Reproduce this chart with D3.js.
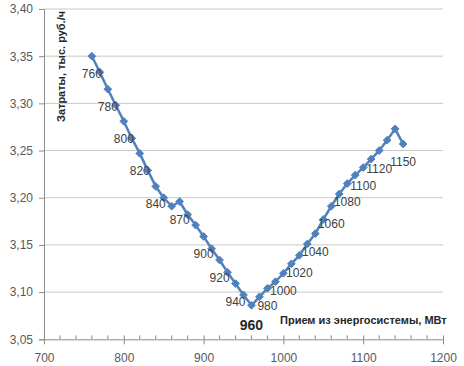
<!DOCTYPE html>
<html><head><meta charset="utf-8">
<script src="https://cdn.jsdelivr.net/npm/d3@7"></script>
<style>
html,body{margin:0;padding:0;background:#fff;}
text{font-family:"Liberation Sans",Arial,sans-serif;}
</style></head>
<body><svg id="c" width="464" height="366"></svg>
<script>
const xValues = [760,770,780,790,800,810,820,830,840,850,860,870,880,890,900,910,920,930,940,950,
                 960,970,980,990,1000,1010,1020,1030,1040,1050,1060,1070,1080,1090,1100,1110,1120,1130,1140,1150];
const costValues = [3.350,3.333,3.315,3.298,3.281,3.263,3.247,3.229,3.212,3.200,3.191,3.196,3.182,3.171,3.159,3.146,3.134,3.121,3.109,3.097,
                 3.086,3.095,3.104,3.111,3.120,3.130,3.139,3.151,3.162,3.177,3.191,3.204,3.215,3.224,3.232,3.241,3.250,3.261,3.273,3.257];
const labeledX = [760,780,800,820,840,870,900,920,940,980,1000,1020,1040,1060,1080,1100,1120,1150];
const highlightX = 960;
const xTicks = [700,800,900,1000,1100,1200];
const yTicks = [3.05,3.10,3.15,3.20,3.25,3.30,3.35,3.40];
const xTitle = "Прием из энергосистемы, МВт";
const yTitle = "Затраты, тыс. руб./ч";

const data = xValues.map((x,i)=>({x, y:costValues[i]}));
const svg = d3.select("#c");
const x = d3.scaleLinear().domain([700,1200]).range([44,443]);
const y = d3.scaleLinear().domain([3.05,3.40]).range([339.3,9]);
const fmt = d3.format(".2f");
const comma = v => fmt(v).replace(".", ",");

// gridlines
svg.append("g").selectAll("line").data(yTicks.slice(1)).join("line")
  .attr("x1",x(700)).attr("x2",x(1200))
  .attr("y1",d=>y(d)).attr("y2",d=>y(d))
  .attr("stroke","#c8c8c8").attr("stroke-width",1);

// y axis
const yAxis = svg.append("g").attr("transform",`translate(${x(700)},0)`)
  .call(d3.axisLeft(y).tickValues(yTicks).tickFormat(comma).tickSize(5).tickPadding(6));
yAxis.select(".domain").attr("stroke","#8c8c8c");
yAxis.selectAll(".tick line").attr("stroke","#8c8c8c");
yAxis.selectAll("text").attr("fill","#595959").style("font-size","12px");

// x axis minor ticks (upwards)
const minor = d3.range(720,1200,20).filter(v=>v%100!==0);
svg.append("g").selectAll("line").data(minor).join("line")
  .attr("x1",d=>x(d)).attr("x2",d=>x(d))
  .attr("y1",y(3.05)).attr("y2",y(3.05)-4)
  .attr("stroke","#8c8c8c");

const xAxis = svg.append("g").attr("transform",`translate(0,${y(3.05)})`)
  .call(d3.axisBottom(x).tickValues(xTicks).tickFormat(d3.format("d")).tickSizeInner(5).tickSizeOuter(0).tickPadding(9));
xAxis.select(".domain").attr("stroke","#8c8c8c");
xAxis.selectAll(".tick line").attr("stroke","#8c8c8c").attr("y1",-4);
xAxis.selectAll("text").attr("fill","#595959").style("font-size","12px");

// line
const line = d3.line().x(d=>x(d.x)).y(d=>y(d.y));
svg.append("path").datum(data).attr("d",line)
  .attr("fill","none").attr("stroke","#4f81bd").attr("stroke-width",2.5).attr("stroke-linejoin","round");

// diamond markers
const diamond = d3.symbol().type(d3.symbolDiamond2).size(38);
svg.append("g").selectAll("path").data(data).join("path")
  .attr("d",diamond)
  .attr("transform",d=>`translate(${x(d.x)},${y(d.y)})`)
  .attr("fill","#4f81bd").attr("stroke","#4f81bd").attr("stroke-width",1);

// data labels
const byX = new Map(data.map(d=>[d.x,d]));
svg.append("g").selectAll("text").data(labeledX.map(v=>byX.get(v))).join("text")
  .attr("x",d=>x(d.x)).attr("y",d=>y(d.y)+22)
  .attr("text-anchor","middle").attr("fill","#404040").style("font-size","12px")
  .text(d=>d.x);
const h = byX.get(highlightX);
svg.append("text").attr("x",x(h.x)).attr("y",y(h.y)+25)
  .attr("text-anchor","middle").attr("fill","#262626")
  .style("font-size","14px").style("font-weight","bold").text(h.x);

// titles
svg.append("text").attr("x",280).attr("y",324)
  .attr("fill","#262626").style("font-size","11px").style("font-weight","bold").text(xTitle);
svg.append("text").attr("transform","translate(65,122) rotate(-90)")
  .attr("fill","#262626").style("font-size","11px").style("font-weight","bold").text(yTitle);
</script></body></html>
